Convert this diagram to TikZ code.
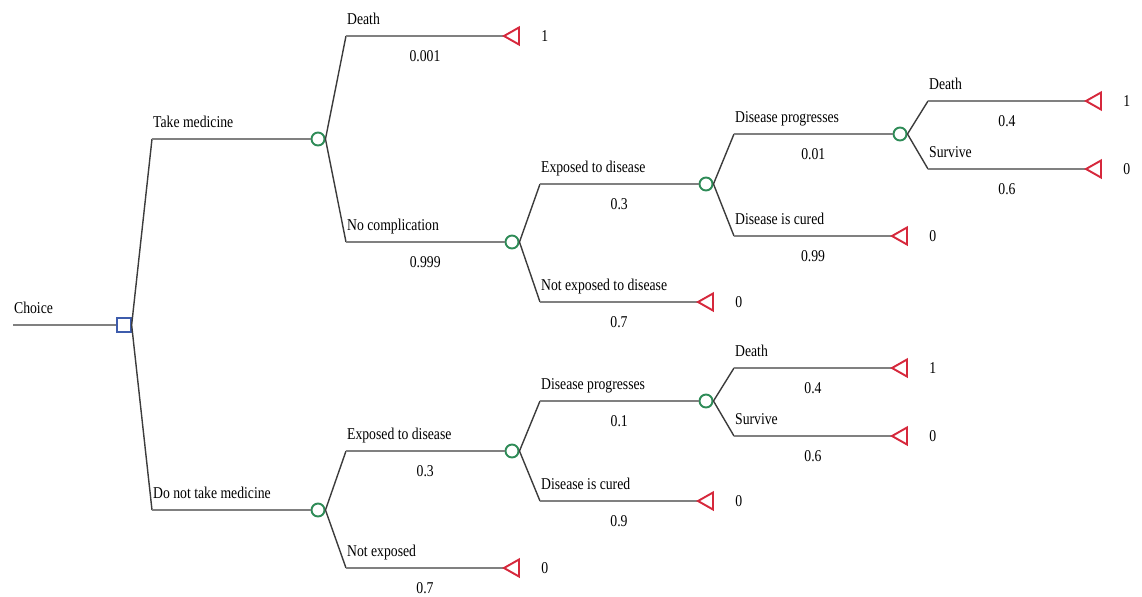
\documentclass[tikz,border=0pt]{standalone}
\usepackage{fontspec}
\setmainfont[FakeStretch=0.83]{Liberation Serif}
\usepackage{xcolor}
\usetikzlibrary{positioning}

\definecolor{chancegreen}{RGB}{46,139,87}
\definecolor{endred}{RGB}{214,40,60}
\definecolor{choiceblue}{RGB}{62,92,172}
\definecolor{branchgray}{RGB}{128,128,128}
\definecolor{diaggray}{RGB}{60,60,60}

\tikzset{
  hline/.style={draw=branchgray,line width=1.3pt},
  diag/.style={draw=diaggray,line width=0.8pt},
  chance/.style={circle,draw=chancegreen,line width=1.1pt,minimum size=7.4pt,inner sep=0pt},
  decision/.style={rectangle,draw=choiceblue,line width=1.1pt,minimum size=7.6pt,inner sep=0pt},
  endtri/.style={draw=endred,line width=1.1pt,line join=miter},
  lbl/.style={pos=0,anchor=base west,yshift=6.8pt,inner sep=0pt},
  prob/.style={midway,anchor=base,yshift=-14.5pt,inner sep=0pt},
  payoff/.style={inner sep=0pt,right=21pt of #1},
  every node/.style={font=\fontsize{9.4pt}{11pt}\selectfont}
}

\begin{document}
\begin{tikzpicture}[x=0.02cm,y=-0.02cm]
  \useasboundingbox (0,0) rectangle (1142,596);

  % decision and chance nodes
  \node[decision] (d) at (124,325) {};
  \node[chance] (c1) at (318,139) {};
  \node[chance] (c2) at (318,510) {};
  \node[chance] (c3) at (512,242) {};
  \node[chance] (c4) at (706,184) {};
  \node[chance] (c5) at (900,134) {};
  \node[chance] (c6) at (512,451) {};
  \node[chance] (c7) at (706,401) {};

  % bends where the branches turn flat
  \coordinate (b1) at (152,139);
  \coordinate (b2) at (152,510);
  \coordinate (b3) at (346,36);
  \coordinate (b4) at (346,242);
  \coordinate (b5) at (540,184);
  \coordinate (b6) at (540,302);
  \coordinate (b7) at (734,134);
  \coordinate (b8) at (734,236);
  \coordinate (b9) at (928,101);
  \coordinate (b10) at (928,169);
  \coordinate (b11) at (346,451);
  \coordinate (b12) at (346,568);
  \coordinate (b13) at (540,401);
  \coordinate (b14) at (540,501);
  \coordinate (b15) at (734,368);
  \coordinate (b16) at (734,436);

  % end points (triangle tips)
  \coordinate (t1) at (504,36);
  \coordinate (t2) at (698,302);
  \coordinate (t3) at (892,236);
  \coordinate (t4) at (1086,101);
  \coordinate (t5) at (1086,169);
  \coordinate (t6) at (504,568);
  \coordinate (t7) at (698,501);
  \coordinate (t8) at (892,368);
  \coordinate (t9) at (892,436);

  % root
  \coordinate (root) at (13,325);
  \draw[hline] (root) -- node[lbl]{Choice} (d);

  % take medicine
  \draw[diag] (d.east) -- (b1);
  \draw[hline] (b1) -- node[lbl]{Take medicine} (c1);
  \draw[diag] (c1.east) -- (b3);
  \draw[hline] (b3) -- node[lbl]{Death} node[prob]{0.001} (t1);
  \draw[diag] (c1.east) -- (b4);
  \draw[hline] (b4) -- node[lbl]{No complication} node[prob]{0.999} (c3);
  \draw[diag] (c3.east) -- (b5);
  \draw[hline] (b5) -- node[lbl]{Exposed to disease} node[prob]{0.3} (c4);
  \draw[diag] (c3.east) -- (b6);
  \draw[hline] (b6) -- node[lbl]{Not exposed to disease} node[prob]{0.7} (t2);
  \draw[diag] (c4.east) -- (b7);
  \draw[hline] (b7) -- node[lbl]{Disease progresses} node[prob]{0.01} (c5);
  \draw[diag] (c4.east) -- (b8);
  \draw[hline] (b8) -- node[lbl]{Disease is cured} node[prob]{0.99} (t3);
  \draw[diag] (c5.east) -- (b9);
  \draw[hline] (b9) -- node[lbl]{Death} node[prob]{0.4} (t4);
  \draw[diag] (c5.east) -- (b10);
  \draw[hline] (b10) -- node[lbl]{Survive} node[prob]{0.6} (t5);

  % do not take medicine
  \draw[diag] (d.east) -- (b2);
  \draw[hline] (b2) -- node[lbl]{Do not take medicine} (c2);
  \draw[diag] (c2.east) -- (b11);
  \draw[hline] (b11) -- node[lbl]{Exposed to disease} node[prob]{0.3} (c6);
  \draw[diag] (c2.east) -- (b12);
  \draw[hline] (b12) -- node[lbl]{Not exposed} node[prob]{0.7} (t6);
  \draw[diag] (c6.east) -- (b13);
  \draw[hline] (b13) -- node[lbl]{Disease progresses} node[prob]{0.1} (c7);
  \draw[diag] (c6.east) -- (b14);
  \draw[hline] (b14) -- node[lbl]{Disease is cured} node[prob]{0.9} (t7);
  \draw[diag] (c7.east) -- (b15);
  \draw[hline] (b15) -- node[lbl]{Death} node[prob]{0.4} (t8);
  \draw[diag] (c7.east) -- (b16);
  \draw[hline] (b16) -- node[lbl]{Survive} node[prob]{0.6} (t9);

  % end triangles
  \draw[endtri] (t1) -- ++(15,-8.5) -- ++(0,17) -- cycle;
  \draw[endtri] (t2) -- ++(15,-8.5) -- ++(0,17) -- cycle;
  \draw[endtri] (t3) -- ++(15,-8.5) -- ++(0,17) -- cycle;
  \draw[endtri] (t4) -- ++(15,-8.5) -- ++(0,17) -- cycle;
  \draw[endtri] (t5) -- ++(15,-8.5) -- ++(0,17) -- cycle;
  \draw[endtri] (t6) -- ++(15,-8.5) -- ++(0,17) -- cycle;
  \draw[endtri] (t7) -- ++(15,-8.5) -- ++(0,17) -- cycle;
  \draw[endtri] (t8) -- ++(15,-8.5) -- ++(0,17) -- cycle;
  \draw[endtri] (t9) -- ++(15,-8.5) -- ++(0,17) -- cycle;

  % payoffs
  \node[payoff=t1] (v1) {1};
  \node[payoff=t2] (v2) {0};
  \node[payoff=t3] (v3) {0};
  \node[payoff=t4] (v4) {1};
  \node[payoff=t5] (v5) {0};
  \node[payoff=t6] (v6) {0};
  \node[payoff=t7] (v7) {0};
  \node[payoff=t8] (v8) {1};
  \node[payoff=t9] (v9) {0};
\end{tikzpicture}
\end{document}
